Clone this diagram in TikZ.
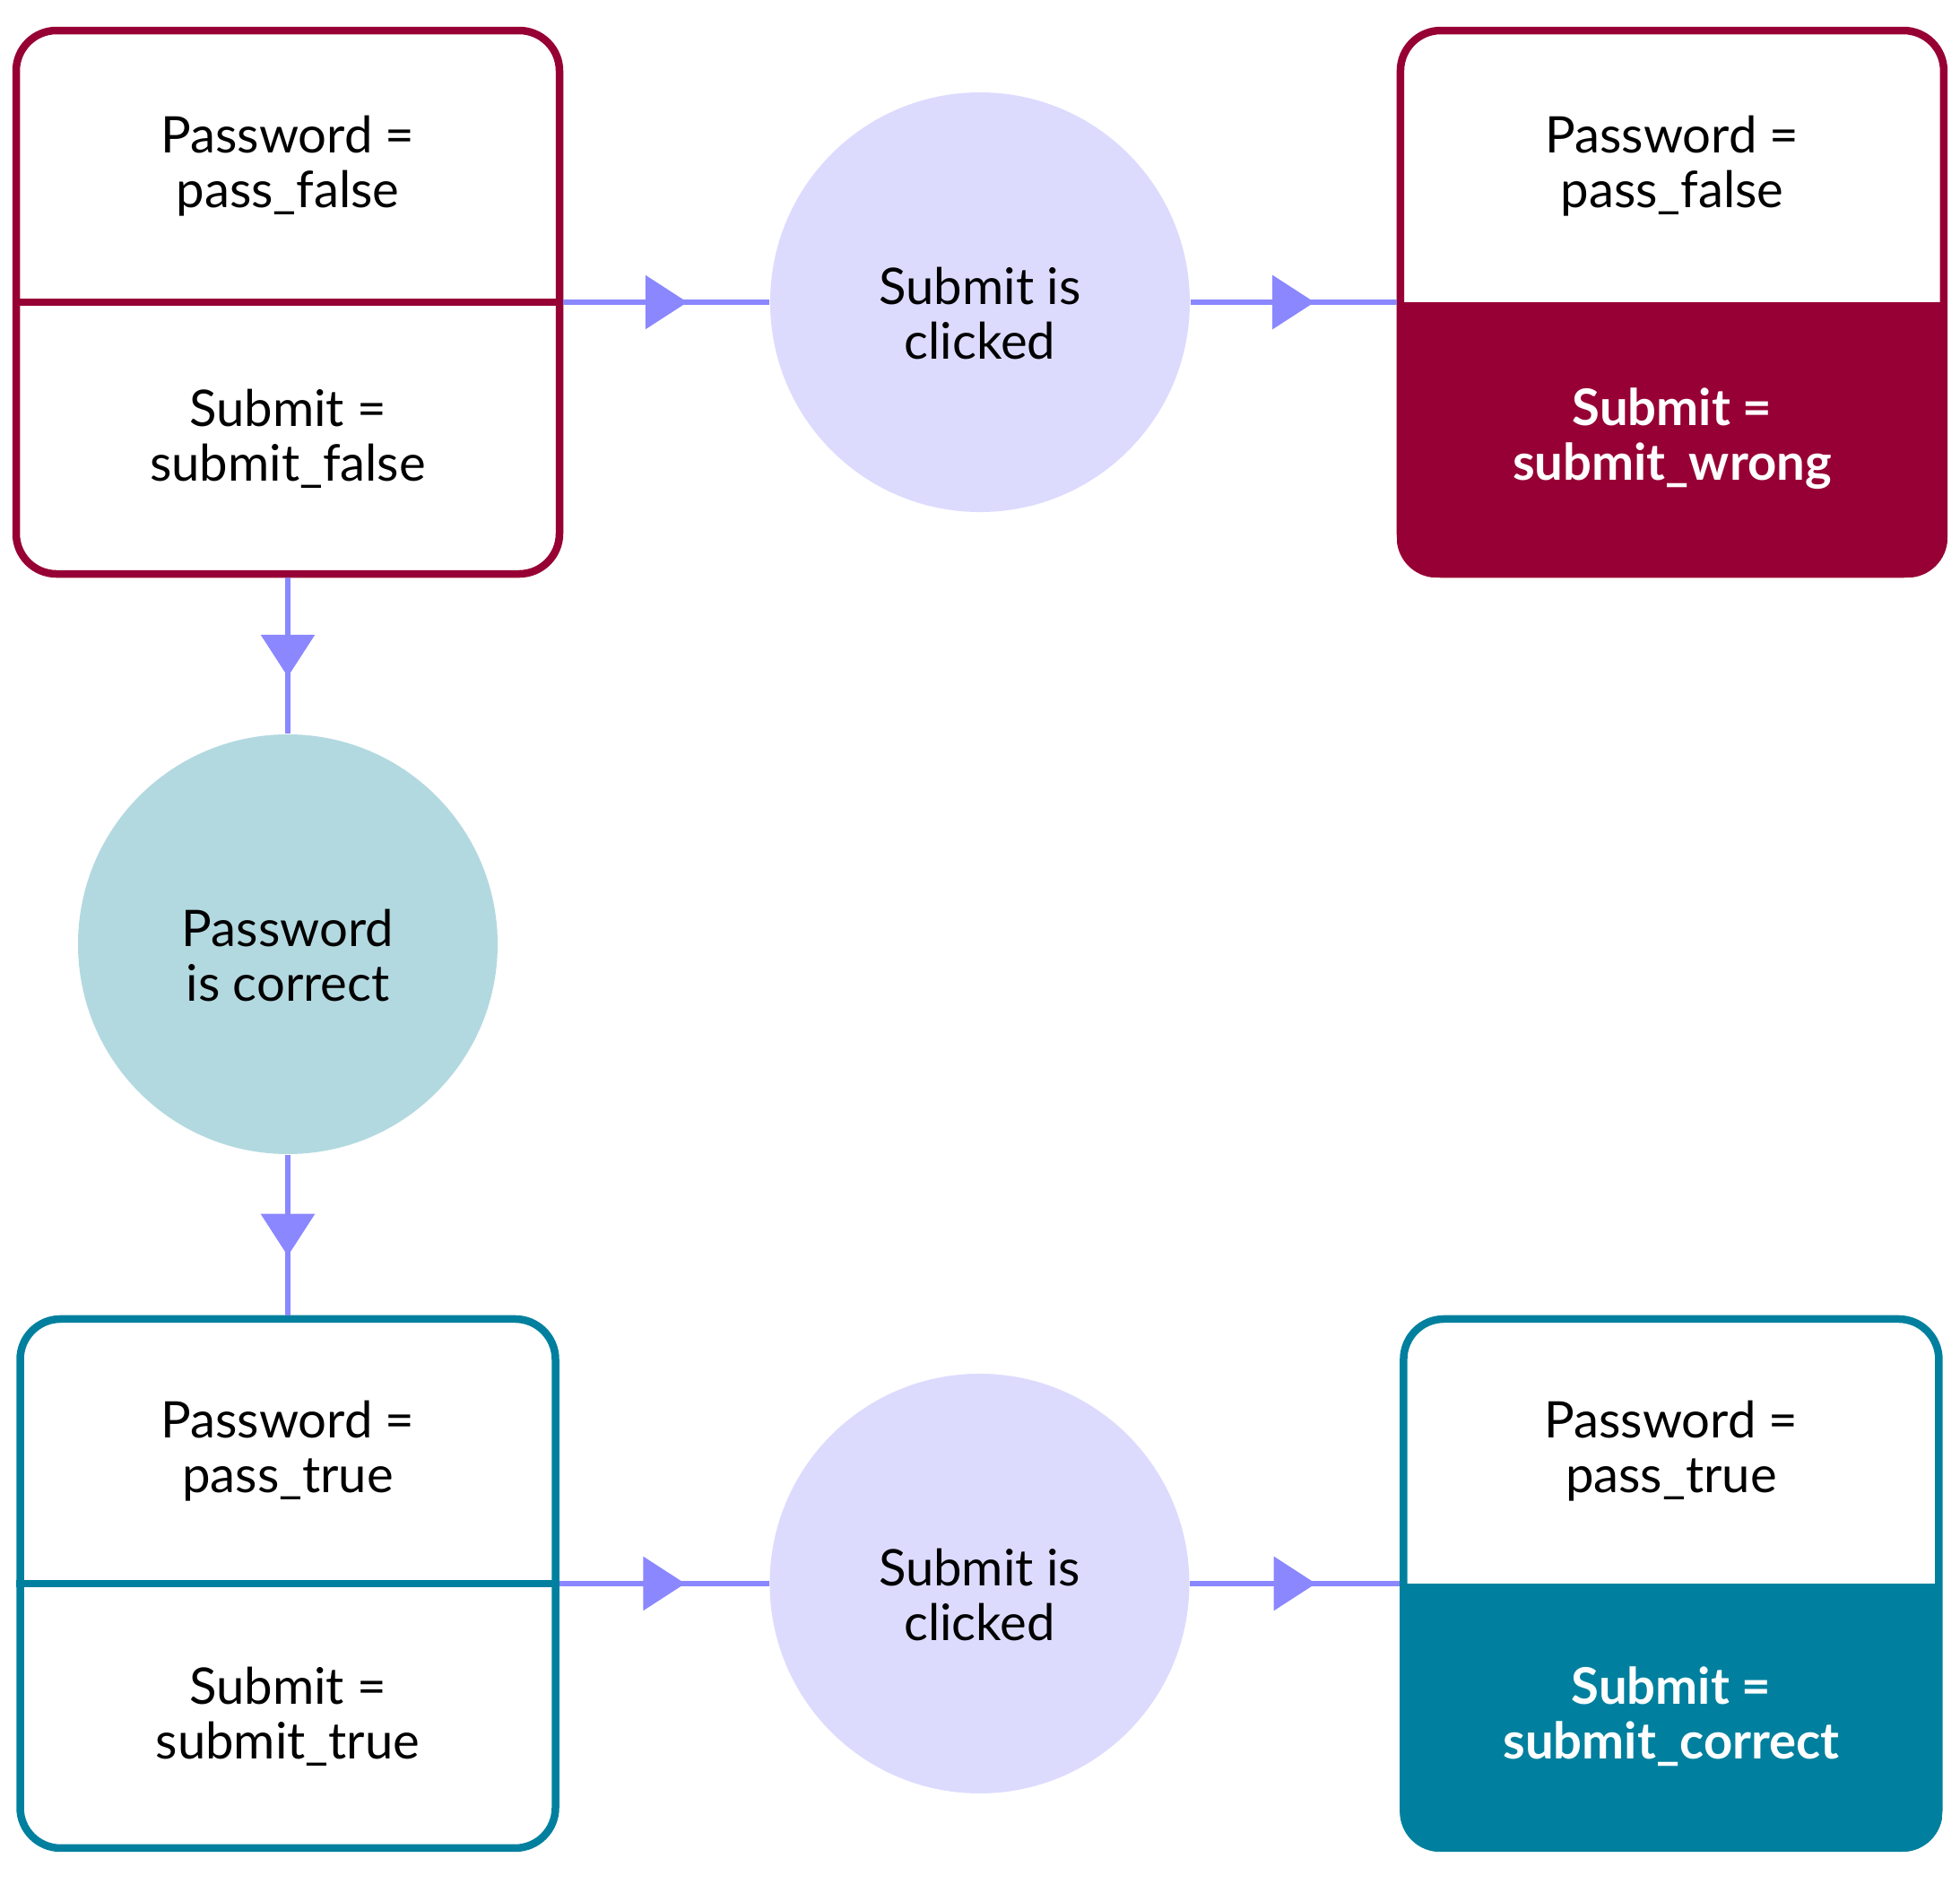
\documentclass[tikz,border=0pt]{standalone}
\usepackage{fontspec}
\setmainfont{Lato}
\usetikzlibrary{positioning,arrows.meta,decorations.markings,backgrounds}

\definecolor{wrongred}{HTML}{970034}
\definecolor{rightteal}{HTML}{00809E}
\definecolor{clickfill}{HTML}{DCDBFE}
\definecolor{checkfill}{HTML}{B3D9E0}
\definecolor{flow}{HTML}{8A87FF}

\begin{document}
\begin{tikzpicture}[
    node distance=1.8cm and 2.3cm,
    font=\fontsize{16}{17.4}\selectfont,
    state/.style={rectangle, draw, line width=0.085cm, rounded corners=0.45cm, minimum width=6.06cm, minimum height=6.06cm},
    small state/.style={state, minimum width=5.97cm, minimum height=5.9cm},
    event/.style={circle, fill=clickfill, minimum size=4.68cm},
    check/.style={event, fill=checkfill},
    value/.style={align=center, inner sep=0pt},
    event text/.style={value, yshift=-0.125cm},
    result/.style={value, text=white, font=\fontsize{16}{17.4}\selectfont\bfseries},
    split/.style={line width=0.085cm},
    line/.style={draw=flow, line width=0.065cm, postaction=decorate,
        decoration={markings, mark=at position 0.5 with {\pgftransformxshift{0.235cm}\arrow{Triangle[length=0.47cm, width=0.59cm]}}}}
]
    \useasboundingbox (0,0) rectangle (21.86,-21);

    % Place nodes
    \node[state, draw=wrongred] at (3.21,-3.37) (start) {};
    \node[event, right=of start, label={[event text]center:Submit is\\clicked}] (click wrong) {};
    \node[state, draw=wrongred, right=of click wrong] (wrong) {};
    \node[check, below=1.74cm of start, label={[event text]center:Password\\is correct}] (check) {};
    \node[small state, draw=rightteal, below=1.79cm of check] (correct) {};
    \node[event, right=2.34cm of correct, label={[event text]center:Submit is\\clicked}] (click right) {};
    \node[small state, draw=rightteal, right=2.34cm of click right] (done) {};

    % Filled halves
    \begin{scope}[on background layer]
        \begin{scope}
            \clip[rounded corners=0.45cm] (wrong.south west) rectangle (wrong.north east);
            \fill[wrongred] (wrong.south west) rectangle (wrong.east);
        \end{scope}
        \begin{scope}
            \clip[rounded corners=0.45cm] (done.south west) rectangle (done.north east);
            \fill[rightteal] (done.south west) rectangle (done.east);
        \end{scope}
    \end{scope}

    % Dividers
    \draw[split, wrongred] (start.west) -- (start.east);
    \draw[split, rightteal] (correct.west) -- (correct.east);

    % Values
    \node[value] at ([yshift=1.52cm]start.center) (start pass) {Password =\\pass\_false};
    \node[value] at ([yshift=-1.52cm]start.center) (start submit) {Submit =\\submit\_false};
    \node[value] at ([yshift=1.52cm]wrong.center) (wrong pass) {Password =\\pass\_false};
    \node[result] at ([yshift=-1.52cm]wrong.center) (wrong submit) {Submit =\\submit\_wrong};
    \node[value] at ([yshift=1.48cm]correct.center) (correct pass) {Password =\\pass\_true};
    \node[value] at ([yshift=-1.48cm]correct.center) (correct submit) {Submit =\\submit\_true};
    \node[value] at ([yshift=1.48cm]done.center) (done pass) {Password =\\pass\_true};
    \node[result] at ([yshift=-1.48cm]done.center) (done submit) {Submit =\\submit\_correct};

    % Draw edges
    \path[line] (start.east) -- (click wrong);
    \path[line] (click wrong) -- (wrong.west);
    \path[line] (start.south) -- (check);
    \path[line] (check) -- (correct.north);
    \path[line] (correct.east) -- (click right);
    \path[line] (click right) -- (done.west);
\end{tikzpicture}
\end{document}
